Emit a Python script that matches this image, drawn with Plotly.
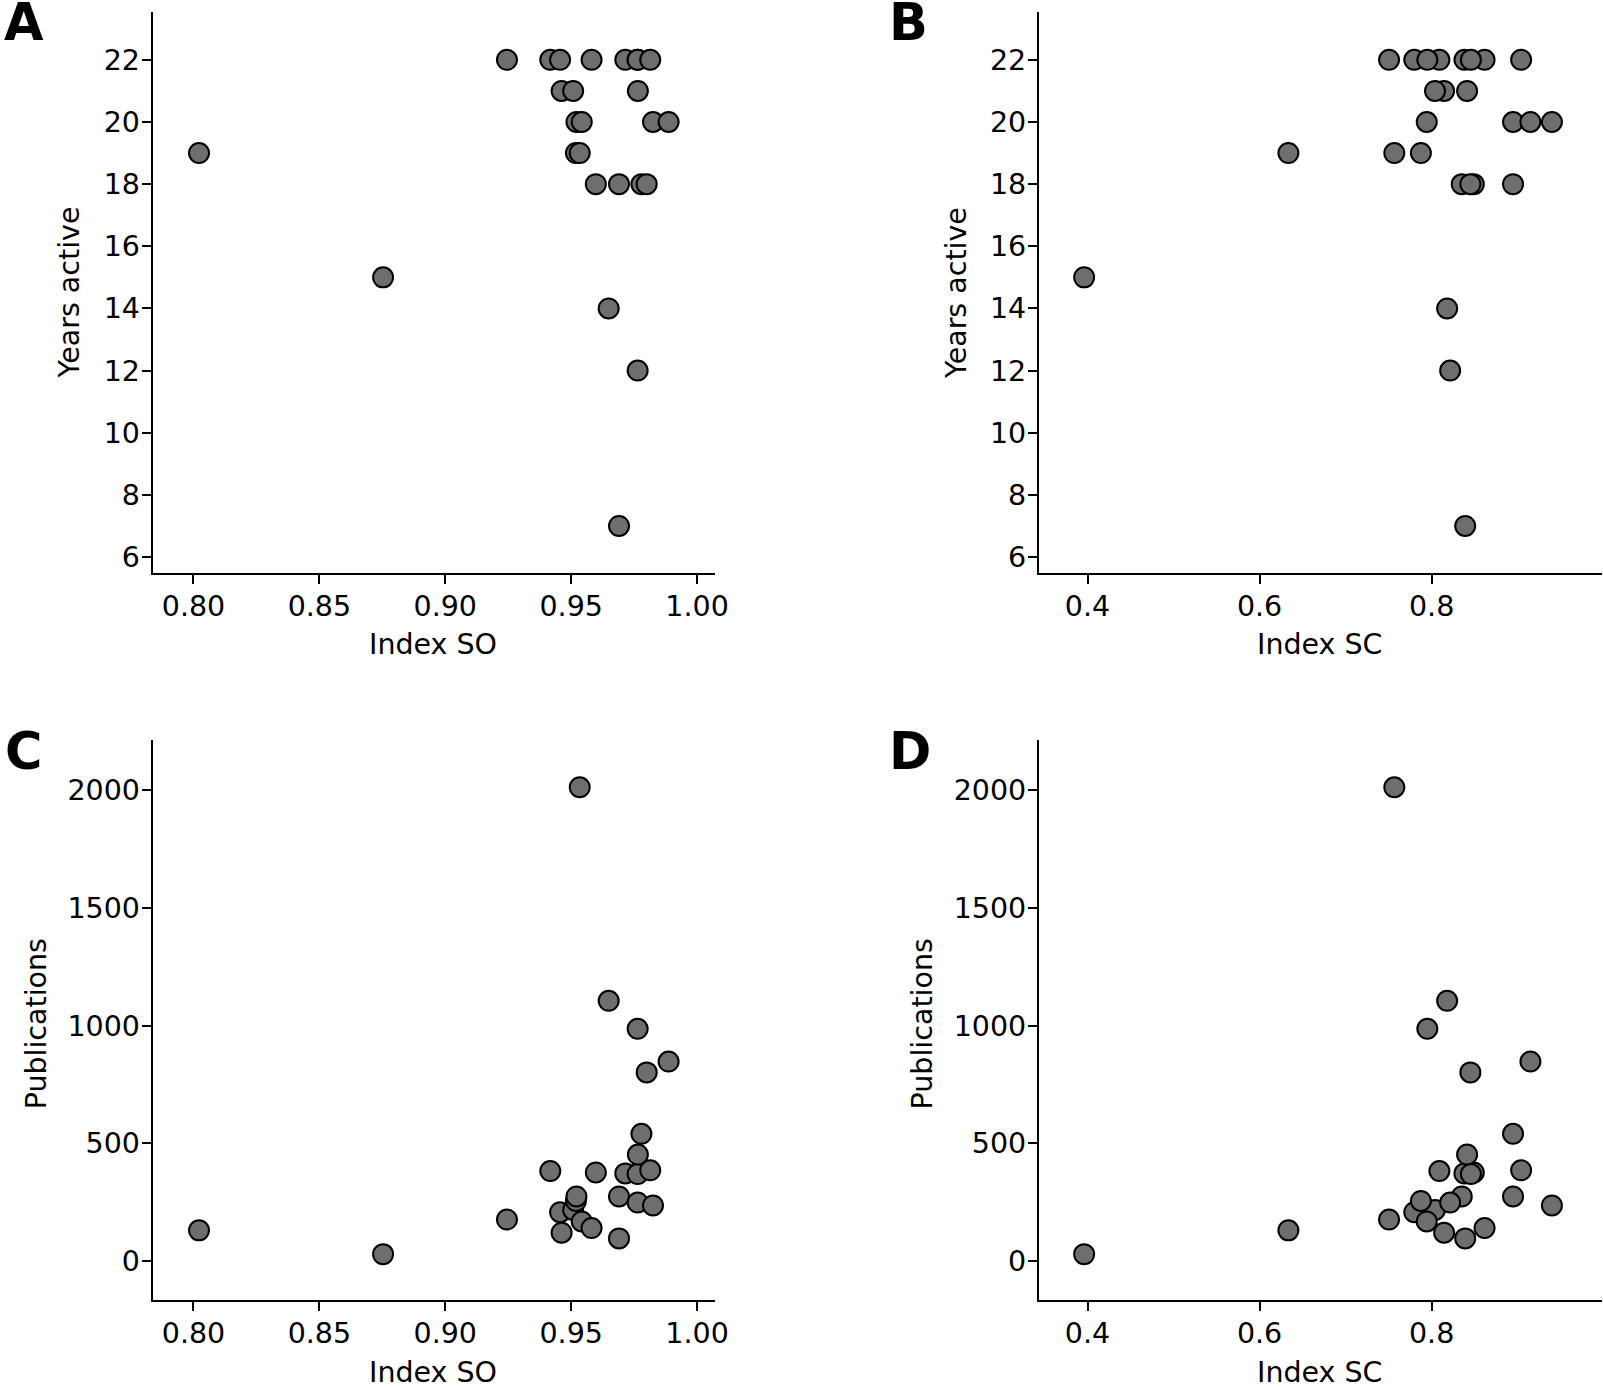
import plotly.graph_objects as go

# ---- data (one record per individual) ----
index_so = [0.8022, 0.8753, 0.9245, 0.9417, 0.9456, 0.9462, 0.9508, 0.9519, 0.9521, 0.9534,
            0.9542, 0.9581, 0.9598, 0.9649, 0.9690, 0.9690, 0.9715, 0.9764, 0.9764, 0.9764,
            0.9765, 0.9779, 0.9800, 0.9814, 0.9825, 0.9887]
index_sc = [0.6335, 0.3961, 0.7505, 0.8090, 0.7798, 0.8145, 0.8039, 0.7875, 0.8946, 0.7566,
            0.7943, 0.8615, 0.8490, 0.8180, 0.8350, 0.8390, 0.8381, 0.7950, 0.8456, 0.8215,
            0.8412, 0.8946, 0.8450, 0.9040, 0.9398, 0.9148]
years_active = [19, 15, 22, 22, 22, 21, 21, 19, 20, 19,
                20, 22, 18, 14, 18, 7, 22, 22, 22, 12,
                21, 18, 18, 22, 20, 20]
publications = [130, 29, 176, 382, 207, 120, 217, 255, 274, 2012,
                 168, 140, 376, 1105, 274, 96, 372, 986, 369, 248,
                 452, 540, 801, 385, 236, 847]

so_ticks = [0.80, 0.85, 0.90, 0.95, 1.00]
sc_ticks = [0.4, 0.6, 0.8]
years_ticks = [6, 8, 10, 12, 14, 16, 18, 20, 22]
pub_ticks = [0, 500, 1000, 1500, 2000]

REF_W, REF_H = 1603, 1387
W, H = 1618, 1387
FONT = "DejaVu Sans"
FS = 28.5

marker = dict(size=20, color="#6e6e6e", line=dict(color="black", width=2))

fig = go.Figure()
panels = [
    ("x", "y", index_so, years_active),
    ("x2", "y2", index_sc, years_active),
    ("x3", "y3", index_so, publications),
    ("x4", "y4", index_sc, publications),
]
for xa, ya, xs, ys in panels:
    fig.add_trace(go.Scatter(x=xs, y=ys, mode="markers", marker=marker,
                             xaxis=xa, yaxis=ya, showlegend=False, hoverinfo="x+y"))

def px_x(p):
    return p / REF_W

def px_y(p):
    return 1 - p / REF_H

axis_common = dict(showline=True, linecolor="black", linewidth=2, ticks="outside",
                   ticklen=9, tickwidth=2, tickcolor="black", showgrid=False, zeroline=False,
                   tickfont=dict(family=FONT, size=FS, color="black"), mirror=False)

left_dom = [px_x(152.5), px_x(714.3)]
right_dom = [px_x(1037.6), px_x(1600)]
top_dom = [px_y(573.3), px_y(12.3)]
bot_dom = [px_y(1301.0), px_y(740.7)]

so_range = [0.7838, 1.0072]
sc_range = [0.3435, 0.998]
yr_range = [5.49, 23.53]
pub_range = [-166, 2212]

xs_kw = dict(ticklabelstandoff=-2)
ys_kw = dict(ticklabelstandoff=-4)

fig.update_layout(
    width=W, height=H, margin=dict(l=0, r=0, t=0, b=0),
    paper_bgcolor="white", plot_bgcolor="white",
    font=dict(family=FONT, color="black"),
    xaxis=dict(axis_common, **xs_kw, domain=left_dom, range=so_range, tickvals=so_ticks,
               ticktext=[f"{v:.2f}" for v in so_ticks], anchor="y"),
    yaxis=dict(axis_common, **ys_kw, domain=top_dom, range=yr_range, tickvals=years_ticks, anchor="x"),
    xaxis2=dict(axis_common, **xs_kw, domain=right_dom, range=sc_range, tickvals=sc_ticks,
                ticktext=[f"{v:.1f}" for v in sc_ticks], anchor="y2"),
    yaxis2=dict(axis_common, **ys_kw, domain=top_dom, range=yr_range, tickvals=years_ticks, anchor="x2"),
    xaxis3=dict(axis_common, **xs_kw, domain=left_dom, range=so_range, tickvals=so_ticks,
                ticktext=[f"{v:.2f}" for v in so_ticks], anchor="y3"),
    yaxis3=dict(axis_common, **ys_kw, domain=bot_dom, range=pub_range, tickvals=pub_ticks, anchor="x3"),
    xaxis4=dict(axis_common, **xs_kw, domain=right_dom, range=sc_range, tickvals=sc_ticks,
                ticktext=[f"{v:.1f}" for v in sc_ticks], anchor="y4"),
    yaxis4=dict(axis_common, **ys_kw, domain=bot_dom, range=pub_range, tickvals=pub_ticks, anchor="x4"),
)

def ann(text, x, y, size=FS, bold=False, angle=0):
    fig.add_annotation(text=f"<b>{text}</b>" if bold else text,
                       x=px_x(x), y=px_y(y), xref="paper", yref="paper",
                       xanchor="center", yanchor="middle", showarrow=False, textangle=angle,
                       font=dict(family=FONT, size=size, color="black"))

# axis titles
ann("Index SO", 432, 645)
ann("Index SC", 1318, 645)
ann("Index SO", 432, 1373)
ann("Index SC", 1318, 1373)
ann("Years active", 69.5, 293, angle=-90)
ann("Years active", 956, 293, angle=-90)
ann("Publications", 36, 1025, angle=-90)
ann("Publications", 921, 1025, angle=-90)

# panel letters
ann("A", 24, 23, size=51, bold=True)
ann("B", 907, 23, size=51, bold=True)
ann("C", 23.5, 752, size=51, bold=True)
ann("D", 909, 752, size=51, bold=True)

fig.write_html(
    "out.html",
    config={"displayModeBar": False},
    post_script="document.body.style.margin='0';document.body.style.padding='0';"
                "document.body.style.overflow='hidden';",
)
